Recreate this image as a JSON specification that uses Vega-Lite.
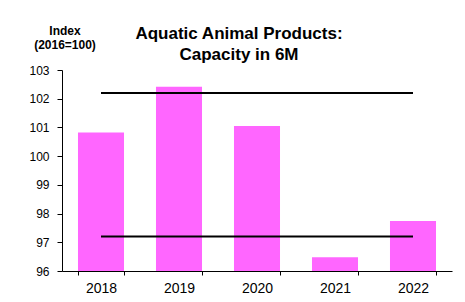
{
  "$schema": "https://vega.github.io/schema/vega-lite/v6.json",
  "width": 390,
  "height": 201,
  "autosize": "none",
  "padding": {"left": 62, "top": 70, "right": 13, "bottom": 31},
  "background": "white",
  "config": {
    "view": {"stroke": null},
    "font": "Liberation Sans",
    "axis": {"grid": false, "domainColor": "#000000", "tickColor": "#000000", "labelColor": "#000000", "labelFont": "Liberation Sans", "labelFontSize": 12}
  },
  "title": {
    "text": ["Aquatic Animal Products:", "Capacity in 6M"],
    "font": "Liberation Sans",
    "fontSize": 17,
    "fontWeight": "bold",
    "color": "#000000",
    "anchor": "middle",
    "dx": -18,
    "dy": 48,
    "offset": 8,
    "lineHeight": 21
  },
  "datasets": {
    "bars": [
      {"year": "2018", "value": 100.82},
      {"year": "2019", "value": 102.42},
      {"year": "2020", "value": 101.05},
      {"year": "2021", "value": 96.48},
      {"year": "2022", "value": 97.74}
    ],
    "bounds": [
      {"year": "2018", "value": 102.2, "bound": "upper"},
      {"year": "2022", "value": 102.2, "bound": "upper"},
      {"year": "2018", "value": 97.2, "bound": "lower"},
      {"year": "2022", "value": 97.2, "bound": "lower"}
    ]
  },
  "encoding": {
    "x": {
      "field": "year", "type": "nominal",
      "scale": {"domain": ["2018", "2019", "2020", "2021", "2022"], "paddingInner": 0.41, "paddingOuter": 0.205},
      "axis": {"title": null, "labelAngle": 0, "tickBand": "extent", "tickSize": 4, "labelPadding": 6, "labelFontSize": 14}
    },
    "y": {
      "field": "value", "type": "quantitative",
      "scale": {"domain": [96, 103], "zero": false, "nice": false},
      "axis": {
        "values": [96, 97, 98, 99, 100, 101, 102, 103],
        "labelOverlap": false,
        "tickSize": 5, "labelPadding": 8,
        "title": ["Index", "(2016=100)"],
        "titleAngle": 0, "titleAlign": "center", "titleBaseline": "alphabetic",
        "titleX": 2.5, "titleY": -36,
        "titleFont": "Liberation Sans", "titleFontSize": 12, "titleFontWeight": "bold",
        "titleLineHeight": 14, "titleColor": "#000000"
      }
    }
  },
  "layer": [
    {
      "data": {"name": "bars"},
      "mark": {"type": "bar", "color": "#FF66FF"},
      "encoding": {
        "y2": {"datum": 96}
      }
    },
    {
      "data": {"name": "bounds"},
      "mark": {"type": "line", "color": "#000000", "strokeWidth": 2},
      "encoding": {
        "detail": {"field": "bound"}
      }
    }
  ]
}
